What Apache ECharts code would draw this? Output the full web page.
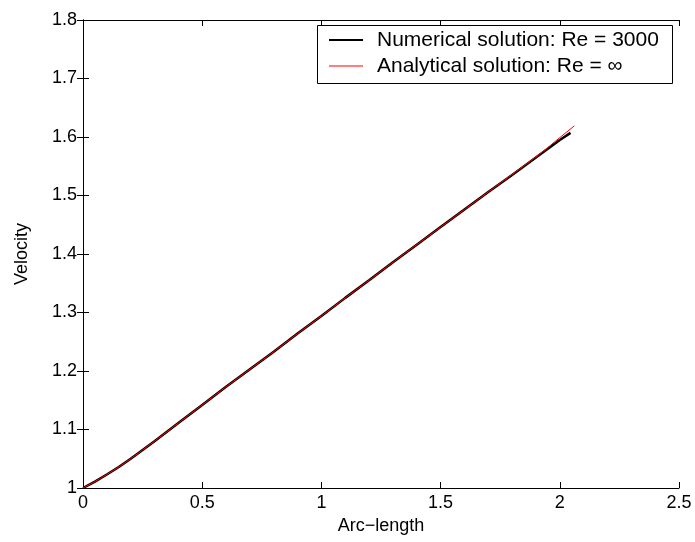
<!DOCTYPE html>
<html>
<head>
<meta charset="utf-8">
<script src="https://cdn.jsdelivr.net/npm/echarts@6/dist/echarts.min.js"></script>
<style>
  html, body { margin: 0; padding: 0; background: #fff; }
  #chart { width: 695px; height: 542px; }
</style>
</head>
<body>
<div id="chart"></div>
<script>
// values
var arcNum = [0, 0.05, 0.1, 0.15, 0.2, 0.25, 0.3, 0.4, 0.5, 0.6, 0.7, 0.8, 0.9, 1.0, 1.1, 1.2, 1.3, 1.4, 1.5, 1.6, 1.7, 1.8, 1.9, 1.95, 2.0, 2.045];
var velNum = [1.0, 1.011, 1.023, 1.036, 1.050, 1.065, 1.080, 1.111, 1.142, 1.173, 1.203, 1.233, 1.264, 1.294, 1.325, 1.355, 1.386, 1.416, 1.446, 1.476, 1.506, 1.535, 1.565, 1.580, 1.595, 1.607];
var arcAna = [0, 0.05, 0.1, 0.15, 0.2, 0.25, 0.3, 0.4, 0.5, 0.6, 0.7, 0.8, 0.9, 1.0, 1.1, 1.2, 1.3, 1.4, 1.5, 1.6, 1.7, 1.8, 1.9, 1.95, 2.0, 2.061];
var velAna = [1.0, 1.011, 1.023, 1.036, 1.050, 1.065, 1.080, 1.111, 1.142, 1.173, 1.203, 1.233, 1.264, 1.294, 1.325, 1.355, 1.386, 1.416, 1.446, 1.476, 1.506, 1.536, 1.566, 1.582, 1.599, 1.619];

var seriesNames = ['Numerical solution: Re = 3000', 'Analytical solution: Re = \u221e'];

function pairs(xs, ys) {
  return xs.map(function (x, i) { return [x, ys[i]]; });
}

var font = 'Liberation Sans, Arial, sans-serif';
var chart = echarts.init(document.getElementById('chart'));

var boxAxis = {
  axisLine: { show: true, lineStyle: { color: '#000', width: 1 } },
  axisTick: { show: true, inside: true, length: 6, lineStyle: { color: '#000' } },
  splitLine: { show: false }
};

// one legend per entry so each key line can have its own thickness
function legendRow(name, top, thick) {
  return {
    left: 329, top: top, padding: 0,
    itemWidth: 34, itemHeight: thick,
    icon: 'rect',
    selectedMode: false,
    textStyle: { fontFamily: font, fontSize: 21, lineHeight: 22, color: '#000', padding: [0, 0, 0, 9] },
    data: [name]
  };
}

var option = {
  animation: false,
  backgroundColor: '#fff',
  textStyle: { fontFamily: font },
  grid: { left: 83, right: 16, top: 20, bottom: 54 },
  graphic: [{
    type: 'rect', left: 317, top: 25, z: 3,
    shape: { width: 355, height: 58 },
    style: { fill: '#fff', stroke: '#000', lineWidth: 1 }
  }],
  legend: [
    legendRow(seriesNames[0], 29, 2),
    legendRow(seriesNames[1], 55, 1)
  ],
  xAxis: [
    Object.assign({
      type: 'value', min: 0, max: 2.5, interval: 0.5,
      name: 'Arc\u2212length', nameLocation: 'middle', nameGap: 27,
      nameTextStyle: { fontFamily: font, fontSize: 18, color: '#000' },
      axisLabel: { fontFamily: font, fontSize: 18, color: '#000', margin: 6,
        formatter: function (v) { return String(v); } }
    }, boxAxis),
    Object.assign({
      type: 'value', min: 0, max: 2.5, interval: 0.5, position: 'top',
      axisLabel: { show: false }
    }, boxAxis)
  ],
  yAxis: [
    Object.assign({
      type: 'value', min: 1, max: 1.8, interval: 0.1,
      name: 'Velocity', nameLocation: 'middle', nameGap: 52,
      nameTextStyle: { fontFamily: font, fontSize: 18, color: '#000' },
      axisLabel: { fontFamily: font, fontSize: 18, color: '#000', margin: 6,
        formatter: function (v) { return String(Math.round(v * 10) / 10); } }
    }, boxAxis),
    Object.assign({
      type: 'value', min: 1, max: 1.8, interval: 0.1, position: 'right',
      axisLabel: { show: false }
    }, boxAxis)
  ],
  series: [
    {
      name: seriesNames[0],
      type: 'line',
      symbol: 'none',
      itemStyle: { color: '#000' },
      lineStyle: { color: '#000', width: 2.5 },
      data: pairs(arcNum, velNum)
    },
    {
      name: seriesNames[1],
      type: 'line',
      symbol: 'none',
      itemStyle: { color: '#ff0000' },
      lineStyle: { color: '#ff0000', width: 1 },
      data: pairs(arcAna, velAna)
    }
  ]
};

chart.setOption(option);
</script>
</body>
</html>
